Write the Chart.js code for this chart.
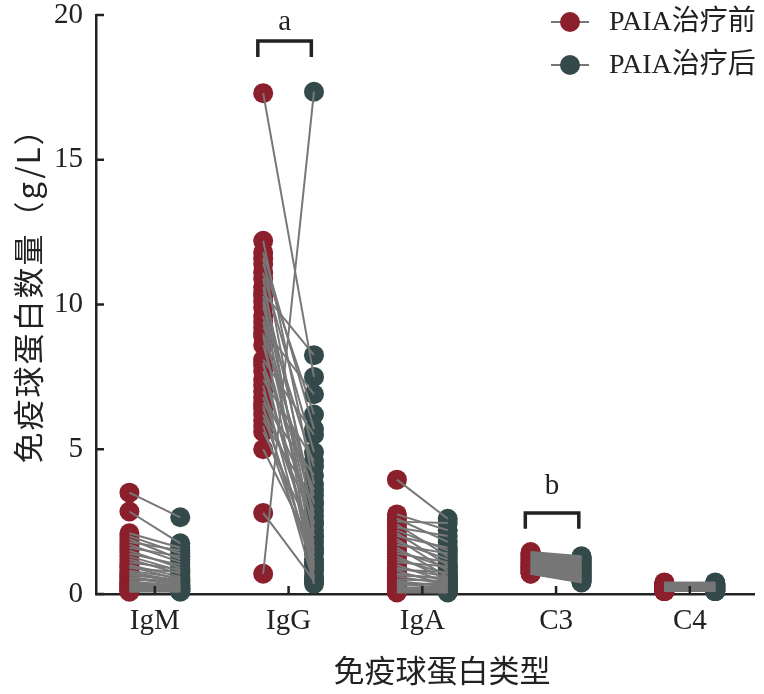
<!DOCTYPE html>
<html>
<head>
<meta charset="utf-8">
<script src="https://cdn.jsdelivr.net/npm/chart.js@4.4.1/dist/chart.umd.min.js"></script>
<style>
  html, body { margin: 0; padding: 0; background: #fff; }
</style>
</head>
<body>
<canvas id="chart" width="764" height="694"></canvas>
<script>
// categories, series, ticks
const categories = ['IgM', 'IgG', 'IgA', 'C3', 'C4'];
const seriesNames = ['PAIA治疗前', 'PAIA治疗后'];
const yTicks = [0, 5, 10, 15, 20];
const xTitle = '免疫球蛋白类型';
const yTitle = '免疫球蛋白数量（g/L）';
const marks = ['a', 'b'];

// paired values (g/L), before -> after
const igmBefore = [3.5, 2.85, 2.1, 2.0, 1.9, 1.8, 1.7, 1.6, 1.5, 1.4, 1.3, 1.2, 1.1, 1.0, 0.95, 0.9, 0.8, 0.75, 0.7, 0.65, 0.6, 0.55, 0.5, 0.45, 0.4, 0.38, 0.35, 0.3, 0.28, 0.25, 0.2, 0.18, 0.15, 0.12, 0.1, 0.08];
const igmAfter  = [2.65, 1.75, 1.6, 1.4, 1.2, 1.5, 1.1, 1.3, 0.9, 1.0, 0.8, 0.7, 0.85, 0.6, 0.5, 0.75, 0.55, 0.45, 0.4, 0.5, 0.35, 0.3, 0.45, 0.25, 0.3, 0.2, 0.28, 0.22, 0.15, 0.2, 0.12, 0.18, 0.1, 0.15, 0.08, 0.1];

const iggBefore = [17.3, 12.2, 11.8, 11.6, 11.4, 11.1, 10.9, 10.6, 10.4, 10.3, 10.1, 9.9, 9.6, 9.4, 9.2, 9.0, 8.9, 8.6, 8.1, 8.0, 7.9, 7.7, 7.4, 7.2, 7.0, 6.8, 6.6, 6.5, 6.4, 6.2, 6.0, 5.8, 5.6, 5.0, 2.8, 0.7];
const iggAfter  = [7.5, 3.8, 5.7, 2.4, 6.2, 4.9, 1.2, 3.1, 8.25, 2.0, 0.8, 4.4, 2.7, 1.6, 6.9, 3.4, 0.5, 2.2, 5.5, 1.0, 3.6, 1.4, 4.6, 0.6, 2.9, 1.8, 4.1, 0.35, 2.5, 1.1, 3.2, 0.9, 2.0, 1.5, 0.45, 17.35];

const igaBefore = [3.95, 2.75, 2.6, 2.5, 2.4, 2.3, 2.2, 2.1, 2.0, 1.9, 1.8, 1.7, 1.6, 1.5, 1.4, 1.3, 1.2, 1.1, 1.0, 0.9, 0.85, 0.8, 0.7, 0.65, 0.6, 0.5, 0.45, 0.4, 0.35, 0.3, 0.25, 0.2, 0.15, 0.12, 0.1, 0.05];
const igaAfter  = [2.6, 2.2, 1.8, 2.45, 1.3, 2.0, 1.5, 1.0, 1.6, 0.8, 1.2, 1.4, 0.6, 0.9, 1.1, 0.5, 0.7, 0.95, 0.4, 0.6, 0.75, 0.3, 0.5, 0.55, 0.35, 0.45, 0.25, 0.3, 0.2, 0.4, 0.15, 0.25, 0.1, 0.2, 0.08, 0.05];

const c3Before = [1.45, 1.42, 1.4, 1.37, 1.35, 1.32, 1.3, 1.28, 1.25, 1.23, 1.2, 1.18, 1.15, 1.13, 1.1, 1.08, 1.06, 1.04, 1.02, 1.0, 0.98, 0.96, 0.94, 0.92, 0.9, 0.88, 0.86, 0.84, 0.82, 0.8, 0.78, 0.76, 0.74, 0.72, 0.71, 0.7];
const c3After  = [1.3, 1.25, 1.28, 1.2, 1.15, 1.22, 1.1, 1.12, 1.05, 1.18, 0.98, 1.02, 0.95, 1.0, 0.9, 0.92, 0.85, 0.88, 0.8, 0.83, 0.78, 0.75, 0.72, 0.7, 0.68, 0.65, 0.62, 0.6, 0.58, 0.55, 0.52, 0.5, 0.48, 0.45, 0.42, 0.4];

const c4Before = [0.4, 0.38, 0.36, 0.35, 0.34, 0.33, 0.32, 0.31, 0.3, 0.29, 0.28, 0.27, 0.26, 0.25, 0.24, 0.23, 0.22, 0.21, 0.2, 0.19, 0.18, 0.17, 0.16, 0.15, 0.14, 0.13, 0.12, 0.12, 0.11, 0.11, 0.1, 0.1, 0.1, 0.1, 0.1, 0.1];
const c4After  = [0.38, 0.4, 0.34, 0.36, 0.33, 0.32, 0.35, 0.3, 0.31, 0.28, 0.29, 0.26, 0.27, 0.24, 0.25, 0.22, 0.23, 0.2, 0.21, 0.18, 0.19, 0.16, 0.17, 0.14, 0.15, 0.13, 0.12, 0.11, 0.12, 0.1, 0.11, 0.1, 0.1, 0.1, 0.1, 0.1];

const RED = '#8c1f2c';
const DARK = '#344a4a';
const LINE = '#777777';
const AXIS = '#222';
const SERIF = '"Liberation Serif", "Noto Sans CJK SC", serif';
const CJK = '"Noto Sans CJK SC", sans-serif';
const OFF = 0.19;   // half gap between before/after columns

const groups = [
  [igmBefore, igmAfter],
  [iggBefore, iggAfter],
  [igaBefore, igaAfter],
  [c3Before, c3After],
  [c4Before, c4After]
];

// brackets over IgG and C3
const brackets = [
  { cat: 2, top: 19.1, bottom: 18.55, textY: 19.75 },
  { cat: 4, top: 2.8, bottom: 2.25, textY: 3.7 }
];

const datasets = [];
const beforePts = [], afterPts = [];
groups.forEach(([before, after], i) => {
  const c = i + 1;
  before.forEach((v, j) => {
    beforePts.push({ x: c - OFF, y: v });
    afterPts.push({ x: c + OFF, y: after[j] });
    datasets.push({
      type: 'line',
      data: [{ x: c - OFF, y: v }, { x: c + OFF, y: after[j] }],
      borderColor: LINE, borderWidth: 2,
      pointRadius: 0, order: 1, clip: false
    });
  });
});
datasets.push({ type: 'scatter', label: seriesNames[0], data: beforePts,
  backgroundColor: RED, borderWidth: 0, pointRadius: 10, order: 2, clip: false });
datasets.push({ type: 'scatter', label: seriesNames[1], data: afterPts,
  backgroundColor: DARK, borderWidth: 0, pointRadius: 10, order: 2, clip: false });
brackets.forEach(b => {
  datasets.push({
    type: 'line',
    data: [
      { x: b.cat - 0.23, y: b.bottom }, { x: b.cat - 0.23, y: b.top },
      { x: b.cat + 0.17, y: b.top }, { x: b.cat + 0.17, y: b.bottom }
    ],
    borderColor: AXIS, borderWidth: 3.5, pointRadius: 0, order: 0, clip: false,
    borderJoinStyle: 'miter'
  });
});

// extra drawing: inner ticks, axis titles, letters, legend
const extras = {
  id: 'extras',
  afterDraw(chart) {
    const { ctx, chartArea: area, scales: { x, y } } = chart;
    ctx.save();
    ctx.strokeStyle = AXIS;
    ctx.lineWidth = 2.5;
    yTicks.forEach(v => {
      const py = y.getPixelForValue(v);
      ctx.beginPath(); ctx.moveTo(area.left, py); ctx.lineTo(area.left + 8, py); ctx.stroke();
    });
    categories.forEach((_, i) => {
      const px = x.getPixelForValue(i + 1);
      ctx.beginPath(); ctx.moveTo(px, area.bottom); ctx.lineTo(px, area.bottom - 8); ctx.stroke();
    });

    ctx.fillStyle = AXIS;
    ctx.textAlign = 'center';
    ctx.textBaseline = 'middle';
    ctx.font = '31px ' + CJK;
    ctx.fillText(xTitle, 442, 670);
    ctx.save();
    ctx.translate(28, 288);
    ctx.rotate(-Math.PI / 2);
    ctx.letterSpacing = '2px';
    ctx.fillText(yTitle, 0, 0);
    ctx.restore();

    ctx.font = '29px ' + SERIF;
    brackets.forEach((b, i) => {
      ctx.fillText(marks[i], x.getPixelForValue(b.cat - 0.03), y.getPixelForValue(b.textY));
    });

    // legend
    const colors = [RED, DARK];
    ctx.textAlign = 'left';
    ctx.font = '28px ' + SERIF;
    seriesNames.forEach((name, i) => {
      const cy = 22 + i * 43;
      ctx.strokeStyle = LINE; ctx.lineWidth = 2;
      ctx.beginPath(); ctx.moveTo(551, cy); ctx.lineTo(589, cy); ctx.stroke();
      ctx.fillStyle = colors[i];
      ctx.beginPath(); ctx.arc(570, cy, 10, 0, Math.PI * 2); ctx.fill();
      ctx.fillStyle = AXIS;
      ctx.fillText(name, 609, cy + 1);
    });
    ctx.restore();
  }
};

new Chart(document.getElementById('chart'), {
  data: { datasets },
  options: {
    responsive: false,
    devicePixelRatio: 1,
    animation: false,
    events: [],
    layout: { padding: { top: 15, right: 7, left: 0, bottom: 0 } },
    plugins: { legend: { display: false }, tooltip: { enabled: false } },
    scales: {
      x: {
        type: 'linear', min: 0.56, max: 5.48, z: 1,
        grid: { display: false, drawTicks: false },
        border: { color: AXIS, width: 2.5 },
        afterBuildTicks: s => { s.ticks = categories.map((_, i) => ({ value: i + 1 })); },
        afterFit: s => { s.height = 100; s.paddingLeft = 0; s.paddingRight = 0; },
        ticks: {
          padding: 10, color: AXIS, maxRotation: 0,
          font: { family: SERIF, size: 29 },
          callback: v => categories[v - 1]
        }
      },
      y: {
        type: 'linear', min: 0, max: 20, z: 1,
        grid: { display: false, drawTicks: false },
        border: { color: AXIS, width: 2.5 },
        afterBuildTicks: s => { s.ticks = yTicks.map(v => ({ value: v })); },
        afterFit: s => { s.width = 96; s.paddingTop = 0; s.paddingBottom = 0; },
        ticks: { padding: 13, color: AXIS, font: { family: SERIF, size: 29 } }
      }
    }
  },
  plugins: [extras]
});
</script>
</body>
</html>
